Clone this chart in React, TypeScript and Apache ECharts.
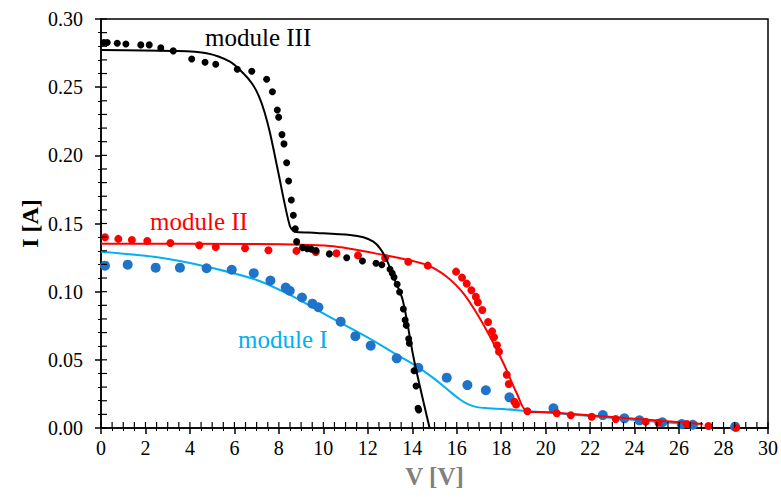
import React, { useEffect, useRef } from "react";
import * as echarts from "echarts";

// Module I (blue dots, cyan fit)
const moduleIV = [0.18, 1.2, 2.46, 3.55, 4.75, 5.88, 6.87, 7.62, 8.31, 8.49, 9.04, 9.51, 9.78, 10.78, 11.44, 12.13, 13.3, 14.27, 15.55, 16.48, 17.31, 18.37, 20.35, 22.57, 23.54, 24.22, 25.25, 26.12, 26.62, 28.52];
const moduleII_ = [0.1191, 0.1198, 0.1176, 0.1176, 0.1172, 0.1161, 0.1136, 0.1082, 0.103, 0.1007, 0.0957, 0.0912, 0.0886, 0.078, 0.0673, 0.0604, 0.0511, 0.0442, 0.0369, 0.0315, 0.0277, 0.0225, 0.0145, 0.0095, 0.0071, 0.0056, 0.0042, 0.0029, 0.0024, 0.001];
const moduleIFitV = [0, 2.54, 4.75, 7.0, 8.5, 10.0, 10.68, 12.2, 13.3, 14.27, 15.0, 15.6, 16.1, 16.5, 16.9, 17.4, 18.2, 19.15, 22.0, 25.0, 26.9];
const moduleIFitI = [0.1293, 0.1252, 0.1183, 0.1086, 0.0976, 0.0841, 0.078, 0.0645, 0.0538, 0.0445, 0.036, 0.028, 0.0215, 0.0175, 0.0153, 0.0145, 0.0138, 0.0124, 0.0088, 0.0045, 0.0026];

// Module II (red)
const moduleIIV = [0.18, 0.78, 1.39, 2.08, 3.12, 4.42, 5.16, 6.48, 7.53, 8.79, 9.66, 10.59, 11.56, 12.78, 13.82, 14.7, 15.97, 16.24, 16.45, 16.66, 16.86, 16.95, 17.15, 17.41, 17.59, 17.68, 17.81, 17.9, 18.25, 18.34, 18.59, 18.67, 19.18, 20.5, 21.13, 22.07, 23.15, 24.5, 25.07, 26.35, 27.32, 28.57];
const moduleIII_ = [0.1399, 0.1387, 0.1379, 0.1372, 0.1357, 0.134, 0.1328, 0.1318, 0.1304, 0.1299, 0.1291, 0.1282, 0.1266, 0.1247, 0.1219, 0.1191, 0.1147, 0.1103, 0.1059, 0.101, 0.0963, 0.0922, 0.0866, 0.0778, 0.0709, 0.0665, 0.0607, 0.056, 0.0391, 0.0323, 0.0193, 0.0172, 0.0123, 0.0108, 0.0093, 0.0083, 0.0066, 0.0046, 0.0039, 0.0029, 0.0015, 0.0002];
const moduleIIFitV = [0, 6.7, 10.3, 12.7, 14.65, 15.55, 16.3, 16.9, 17.5, 18.1, 18.7, 19.18, 20.2, 24.0, 27.07];
const moduleIIFitI = [0.1352, 0.135, 0.1335, 0.1269, 0.1196, 0.111, 0.0988, 0.0842, 0.067, 0.0475, 0.0255, 0.012, 0.0115, 0.0068, 0.0029];

// Module III (black)
const moduleIIIV = [0.13, 0.28, 0.73, 1.12, 1.79, 2.17, 2.69, 3.25, 4.08, 4.68, 5.16, 6.13, 6.78, 7.45, 7.71, 7.93, 7.99, 8.14, 8.23, 8.35, 8.44, 8.56, 8.65, 8.74, 8.8, 9.07, 9.28, 9.46, 9.67, 10.27, 11.05, 11.76, 12.37, 12.63, 13.0, 13.1, 13.18, 13.32, 13.43, 13.6, 13.68, 13.73, 13.84, 13.87, 14.08, 14.17, 14.26, 14.29];
const moduleIIII = [0.2827, 0.2827, 0.2822, 0.2817, 0.281, 0.281, 0.2788, 0.2766, 0.2707, 0.2683, 0.2668, 0.2632, 0.2617, 0.2558, 0.2467, 0.2333, 0.228, 0.2152, 0.2084, 0.1946, 0.1812, 0.1673, 0.1561, 0.1462, 0.1367, 0.1323, 0.1315, 0.1311, 0.1301, 0.1277, 0.1249, 0.1225, 0.1209, 0.1197, 0.1164, 0.1135, 0.1106, 0.1054, 0.0998, 0.0873, 0.0792, 0.0753, 0.0655, 0.0621, 0.042, 0.0308, 0.0145, 0.0132];
const moduleIIIFitV = [0, 3.25, 4.75, 5.8, 6.4, 6.8, 7.1, 7.35, 7.6, 7.98, 8.28, 8.5, 8.65, 8.8, 9.7, 11.2, 11.8, 12.25, 12.55, 12.85, 13.15, 13.57, 14.08, 14.78];
const moduleIIIFitI = [0.2773, 0.2766, 0.2749, 0.2687, 0.2602, 0.2525, 0.2435, 0.232, 0.2165, 0.187, 0.163, 0.148, 0.1445, 0.1437, 0.1431, 0.1416, 0.1399, 0.1367, 0.1318, 0.1233, 0.111, 0.0939, 0.0499, 0];

const xTicks = { min: 0, max: 30, interval: 2 };
const yTicks = { min: 0, max: 0.3, interval: 0.05 };
const xMinorStep = 0.5;
const yMinorStep = 0.01;

const zip = (a: number[], b: number[]) => a.map((v, i) => [v, b[i]]);
const steps = (min: number, max: number, step: number) => {
  const out: number[] = [];
  const n = Math.round((max - min) / step);
  for (let i = 0; i <= n; i++) out.push(+(min + i * step).toFixed(4));
  return out;
};

const FONT = "Liberation Serif";

export default function App() {
  const ref = useRef<HTMLDivElement>(null);
  useEffect(() => {
    if (!ref.current) return;
    const chart = echarts.init(ref.current, undefined, { renderer: "svg" });
    const axisBase = {
      axisLine: { show: true, onZero: false, lineStyle: { color: "#000", width: 1.5 } },
      axisTick: { show: true, inside: false, length: 6, lineStyle: { color: "#000", width: 1.5 } },
      splitLine: { show: false },
      minorSplitLine: { show: false },
    };
    const xMinor = steps(xTicks.min, xTicks.max, xMinorStep).map((v) => [v, yTicks.min]);
    const yMinor = steps(yTicks.min, yTicks.max, yMinorStep).map((v) => [xTicks.min, v]);
    chart.setOption({
      animation: false,
      backgroundColor: "#fff",
      grid: { left: 101, right: 13, top: 19, bottom: 69, show: true, borderColor: "#000", borderWidth: 1.5, backgroundColor: "transparent" },
      xAxis: {
        type: "value",
        ...xTicks,
        ...axisBase,
        minorTick: { show: true, splitNumber: 4, length: 3, lineStyle: { color: "#000", width: 1 } },
        axisLabel: { color: "#000", fontFamily: FONT, fontSize: 20, margin: 10 },
        name: "V [V]",
        nameLocation: "middle",
        nameGap: 36,
        nameMoveOverlap: false,
        nameTextStyle: { color: "#808080", fontFamily: FONT, fontSize: 25, fontWeight: "bold" },
      },
      yAxis: {
        type: "value",
        ...yTicks,
        ...axisBase,
        minorTick: { show: true, splitNumber: 5, length: 3, lineStyle: { color: "#000", width: 1 } },
        axisLabel: { color: "#000", fontFamily: FONT, fontSize: 20, margin: 18, formatter: (v: number) => v.toFixed(2) },
        name: "I [A]",
        nameLocation: "middle",
        nameGap: 59,
        nameMoveOverlap: false,
        nameTextStyle: { color: "#000", fontFamily: FONT, fontSize: 24, fontWeight: "bold" },
      },
      graphic: [
        { type: "text", left: 205, top: 25, style: { text: "module III", fill: "#000", fontSize: 25, fontFamily: FONT } },
        { type: "text", left: 150, top: 209, style: { text: "module II", fill: "#ff0000", fontSize: 25, fontFamily: FONT } },
        { type: "text", left: 238, top: 327, style: { text: "module I", fill: "#00b0f0", fontSize: 25, fontFamily: FONT } },
      ],
      series: [
        { type: "line", data: zip(moduleIFitV, moduleIFitI), showSymbol: false, smooth: 0.3, lineStyle: { color: "#00b0f0", width: 2 }, z: 2 },
        { type: "scatter", data: zip(moduleIV, moduleII_), symbolSize: 10, itemStyle: { color: "#1f74c9", opacity: 1 }, z: 3 },
        { type: "line", data: zip(moduleIIFitV, moduleIIFitI), showSymbol: false, smooth: 0.3, lineStyle: { color: "#ff0000", width: 2 }, z: 4 },
        { type: "scatter", data: zip(moduleIIV, moduleIII_), symbolSize: 8, itemStyle: { color: "#ff0000", opacity: 1 }, z: 5 },
        { type: "line", data: zip(moduleIIIFitV, moduleIIIFitI), showSymbol: false, smooth: 0.3, lineStyle: { color: "#000", width: 2 }, z: 6 },
        { type: "scatter", data: zip(moduleIIIV, moduleIIII), symbolSize: 7, itemStyle: { color: "#000", opacity: 1 }, z: 7 },
        {
          type: "custom",
          coordinateSystem: "cartesian2d",
          data: xMinor,
          silent: true,
          clip: false,
          z: 8,
          renderItem: (_p: any, api: any) => {
            const pt = api.coord([api.value(0), api.value(1)]);
            return { type: "rect", shape: { x: pt[0] - 0.6, y: pt[1] - 6, width: 1.2, height: 6 }, style: { fill: "#000" } };
          },
        },
        {
          type: "custom",
          coordinateSystem: "cartesian2d",
          data: yMinor,
          silent: true,
          clip: false,
          z: 8,
          renderItem: (_p: any, api: any) => {
            const pt = api.coord([api.value(0), api.value(1)]);
            return { type: "rect", shape: { x: pt[0], y: pt[1] - 0.6, width: 6, height: 1.2 }, style: { fill: "#000" } };
          },
        },
      ],
    });
    return () => chart.dispose();
  }, []);
  return <div ref={ref} style={{ width: 781, height: 497, position: "absolute", left: 0, top: 0 }} />;
}
